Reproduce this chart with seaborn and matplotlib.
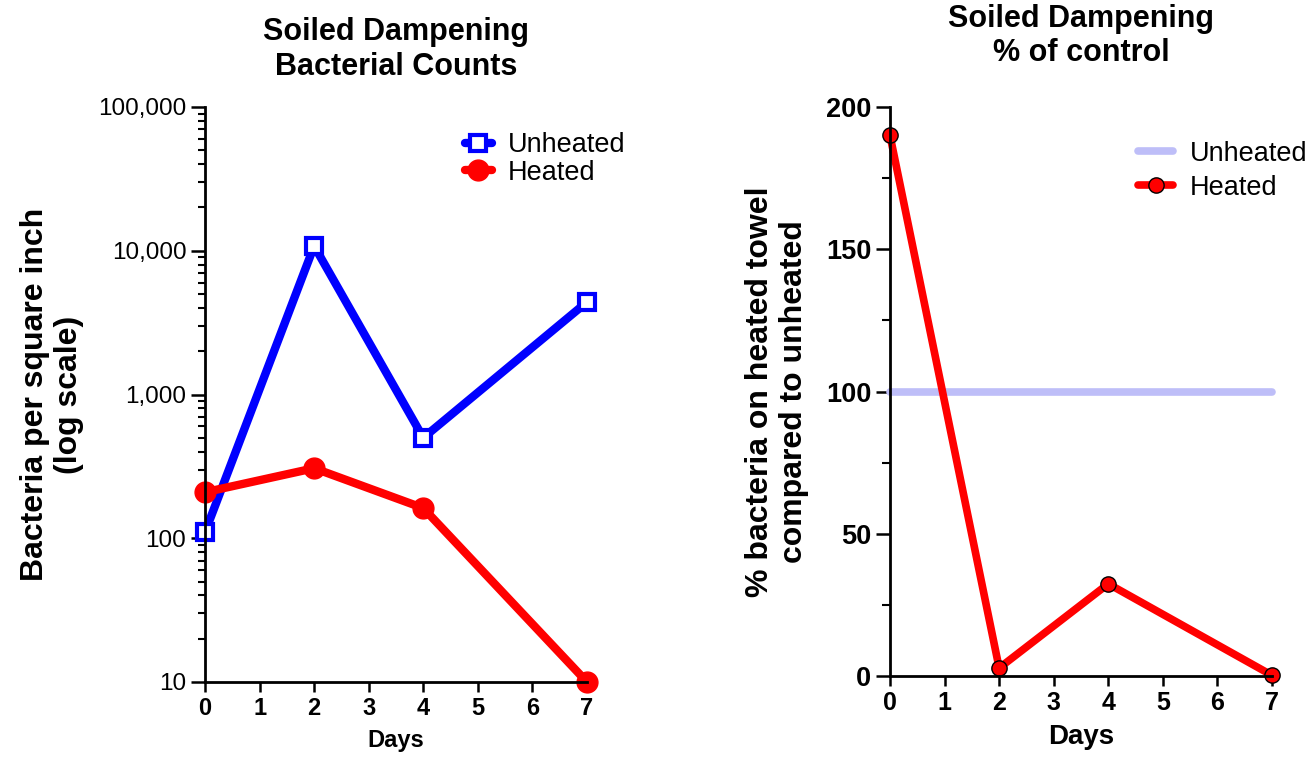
import matplotlib
matplotlib.use("Agg")
import matplotlib.pyplot as plt
import matplotlib.ticker as mticker
import seaborn as sns
import numpy as np

days = [0, 2, 4, 7]
unheated_counts = [110, 10800, 500, 4400]
heated_counts = [209, 307, 162, 10]
pct_unheated = [100, 100, 100, 100]
pct_heated = [190, 2.8, 32.4, 0.23]

left_title = "Soiled Dampening\nBacterial Counts"
right_title = "Soiled Dampening\n% of control"
left_ylabel = "Bacteria per square inch\n(log scale)"
right_ylabel = "% bacteria on heated towel\ncompared to unheated"
xlabel = "Days"

sns.set_theme(style="ticks")
plt.rcParams['font.family'] = ['Liberation Sans', 'DejaVu Sans']
for k in ['text.color', 'axes.labelcolor', 'xtick.color', 'ytick.color', 'axes.edgecolor']:
    plt.rcParams[k] = 'black'

fig = plt.figure(figsize=(13.13, 7.57), dpi=100)
axL = fig.add_axes([205/1313, 1-682/757, (587-205)/1313, (682-107)/757])
axR = fig.add_axes([890/1313, 1-676/757, (1272-890)/1313, (676-107)/757])

# Left plot
sns.lineplot(x=days, y=unheated_counts, ax=axL, color='#0000ff', linewidth=6,
             marker='s', markersize=11, markerfacecolor='white',
             markeredgecolor='#0000ff', markeredgewidth=3, label='Unheated', clip_on=False)
sns.lineplot(x=days, y=heated_counts, ax=axL, color='#ff0000', linewidth=6,
             marker='o', markersize=15, markerfacecolor='#ff0000',
             markeredgecolor='#ff0000', markeredgewidth=1, label='Heated', clip_on=False)
axL.set_yscale('log')
axL.set_ylim(10, 100000)
axL.set_xlim(0, 7)
axL.yaxis.set_major_locator(mticker.LogLocator(base=10, numticks=10))
axL.yaxis.set_minor_locator(mticker.LogLocator(base=10, subs=np.arange(2, 10), numticks=20))
axL.yaxis.set_minor_formatter(mticker.NullFormatter())
axL.yaxis.set_major_formatter(mticker.FuncFormatter(lambda v, p: f"{int(round(v)):,}"))
axL.set_xticks(range(0, 8))
for lab in axL.get_xticklabels():
    lab.set_fontweight('bold')
axL.tick_params(axis='x', labelsize=17, length=7, width=1.8, direction='out', pad=4)
axL.tick_params(axis='y', which='major', labelsize=17.5, length=10, width=1.8, direction='out')
axL.tick_params(axis='y', which='minor', length=5, width=1.5, direction='out')
axL.set_xlabel(xlabel, fontsize=17, fontweight='bold', labelpad=6)
axL.set_ylabel(left_ylabel, fontsize=23, fontweight='bold', labelpad=10)
axL.set_title(left_title, fontsize=22, fontweight='bold', pad=23)
sns.despine(ax=axL)
for s in ['left', 'bottom']:
    axL.spines[s].set_linewidth(2)
    axL.spines[s].set_color('black')
legL = axL.legend(loc='upper right', bbox_to_anchor=(1.13, 0.975), frameon=False,
                  fontsize=19.5, handlelength=1.0, handletextpad=0.6,
                  labelspacing=0.05, borderaxespad=0)

# Right plot
sns.lineplot(x=days, y=pct_unheated, ax=axR, color='#bebef8', linewidth=5.5,
             label='Unheated', clip_on=False)
sns.lineplot(x=days, y=pct_heated, ax=axR, color='#ff0000', linewidth=5.5,
             marker='o', markersize=11, markerfacecolor='#ff0000',
             markeredgecolor='black', markeredgewidth=1, label='Heated', clip_on=False)
axR.set_ylim(0, 200)
axR.set_xlim(0, 7)
axR.set_yticks([0, 50, 100, 150, 200])
axR.yaxis.set_minor_locator(mticker.AutoMinorLocator(2))
axR.set_xticks(range(0, 8))
for lab in axR.get_xticklabels() + axR.get_yticklabels():
    lab.set_fontweight('bold')
axR.tick_params(axis='x', labelsize=18, length=7, width=1.8, direction='out', pad=4)
axR.tick_params(axis='y', which='major', labelsize=19.5, length=10, width=1.8, direction='out')
axR.tick_params(axis='y', which='minor', length=6, width=1.5, direction='out')
axR.set_xlabel(xlabel, fontsize=20, fontweight='bold', labelpad=6)
axR.set_ylabel(right_ylabel, fontsize=23, fontweight='bold', labelpad=12)
axR.set_title(right_title, fontsize=22, fontweight='bold', pad=33)
sns.despine(ax=axR)
for s in ['left', 'bottom']:
    axR.spines[s].set_linewidth(2)
    axR.spines[s].set_color('black')
legR = axR.legend(loc='upper right', bbox_to_anchor=(1.12, 0.96), frameon=False,
                  fontsize=19.5, handlelength=1.3, handletextpad=0.6,
                  labelspacing=0.3, borderaxespad=0)

fig.savefig("out.png", dpi=100, facecolor='white')
